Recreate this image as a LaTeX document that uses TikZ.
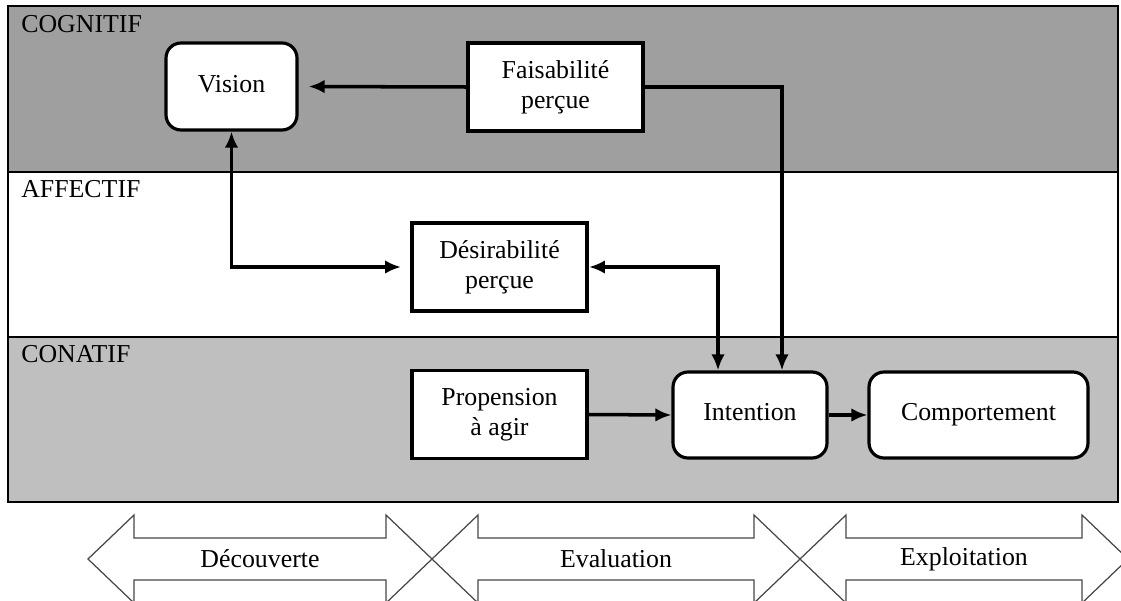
\documentclass[tikz,border=0pt]{standalone}
\usepackage{fontspec}
\setmainfont{Liberation Serif}
\definecolor{cogn}{RGB}{159,159,159}
\definecolor{conat}{RGB}{191,191,191}
\definecolor{phase}{RGB}{70,70,70}
\usepackage{tikz}
\usetikzlibrary{
	arrows.meta,
	positioning
}
\tikzset{
  % arrow
	cstra/.style      ={-{Latex[length=0.32cm,width=0.27cm]}, line width=2pt},
	cstlra/.style     ={{Latex[length=0.32cm,width=0.27cm]}-{Latex[length=0.32cm,width=0.27cm]}, line width=2pt},
  % band
	cstband/.style    ={draw=black, line width=0.6pt},
	cstlabel/.style   ={anchor=north west, inner sep=0pt},
  % node
	cstbox/.style     ={fill=white, draw=black, line width=2.2pt, align=center, minimum width=3.5cm, minimum height=1.76cm, inner sep=0pt},
	cstrbox/.style    ={cstbox, rounded corners=0.3cm, line width=1.8pt, text height=0.9em, text depth=0.22em},
  % phase
	cstphase/.style   ={draw=phase, line width=0.7pt}
}

\begin{document}
\begin{tikzpicture}[x=0.02cm, y=-0.02cm, font=\fontsize{14.7}{17}\selectfont]
	\clip (0,0) rectangle (1121,601);
	% bandes
	\filldraw[cstband, fill=cogn] (8,6) rectangle (1118,172);
	\draw[cstband] (8,172) rectangle (1118,337);
	\filldraw[cstband, fill=conat] (8,337) rectangle (1118,502);
	\node[cstlabel] (lcogn) at (21,15) {COGNITIF};
	\node[cstlabel] (laffe) at (21,180) {AFFECTIF};
	\node[cstlabel] (lcona) at (21,345) {CONATIF};
	% boites
	\node[cstrbox, minimum width=2.62cm, minimum height=1.74cm] (vision) at (231.5,86.5) {Vision};
	\node[cstbox] (faisa) at (555.5,87) {Faisabilité\\perçue};
	\node[cstbox] (desir) at (499.5,267) {Désirabilité\\perçue};
	\node[cstbox] (prop) at (499.5,414.5) {Propension\\à agir};
	\node[cstrbox, minimum width=3.08cm, minimum height=1.72cm] (inten) at (750,415) {Intention};
	\node[cstrbox, minimum width=4.38cm, minimum height=1.72cm] (comp) at (978.5,415) {Comportement};
	\coordinate (inA) at ([xshift=-0.64cm]inten.north);
	\coordinate (inB) at ([xshift=0.64cm]inten.north);
	% fleches
	\draw[cstra, shorten >=0.2cm] (faisa.west) -- (vision.east);
	\draw[cstra] (faisa.east) -| (inB);
	\draw[cstlra, shorten >=0.18cm] (vision.south) |- (desir.west);
	\draw[cstlra] (desir.east) -| (inA);
	\draw[cstra] (prop.east) -- (inten.west);
	\draw[cstra] (inten.east) -- (comp.west);
	% phases
	\foreach \a/\b/\t/\n in {88/432/Découverte/dec, 432/800/Evaluation/eva, 800/1128/Exploitation/expl}{
		\draw[cstphase] (\a,559) -- (\a+46,515) -- (\a+46,538) -- (\b-46,538) -- (\b-46,515)
			-- (\b,559) -- (\b-46,603) -- (\b-46,580) -- (\a+46,580) -- (\a+46,603) -- cycle;
		\node (\n) at ({(\a+\b)/2},559) {\t};
	}
\end{tikzpicture}
\end{document}
